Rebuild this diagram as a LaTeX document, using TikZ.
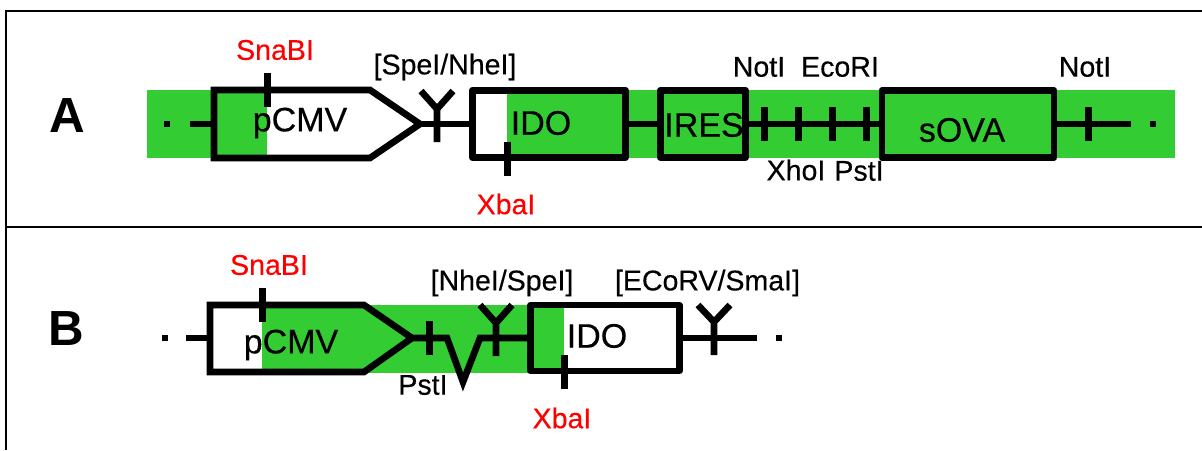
\documentclass[tikz,border=0pt]{standalone}
\usepackage{fontspec}
\usepackage{xcolor}
\setmainfont{Liberation Sans}
\newfontfamily\labelfont[FakeBold=0.35]{Liberation Sans}
\definecolor{bandgreen}{RGB}{51,204,51}

\begin{document}
\begin{tikzpicture}[x=0.75pt,y=-0.75pt]
%style for panel frame
\tikzstyle{frame} = [draw=black, line width=1.5pt]

%style for green band
\tikzstyle{band} = [fill=bandgreen, draw=none]

%style for backbone line and promoter outline
\tikzstyle{dna} = [draw=black, line width=5pt, line join=miter]

%style for gene box
\tikzstyle{gene} = [rectangle, draw=black, line width=5pt, line join=round, inner sep=0pt, outer sep=0pt]

%style for restriction site tick
\tikzstyle{site} = [rectangle, fill=black, inner sep=0pt, outer sep=0pt, minimum width=5.25pt, minimum height=26pt]

%style for end dot
\tikzstyle{dot} = [rectangle, fill=black, inner sep=0pt, minimum size=4.5pt]

%style for texts
\tikzstyle{panel} = [inner sep=0pt, font=\fontsize{37}{40}\selectfont\bfseries]
\tikzstyle{insert} = [inner sep=0pt, font=\labelfont\fontsize{25.5}{28}\selectfont]
\tikzstyle{enzyme} = [inner sep=0pt, font=\labelfont\fontsize{21.4}{24}\selectfont]
\tikzstyle{keyenzyme} = [enzyme, text=red]

\useasboundingbox (0,0) rectangle (1202,450);

%panel frame
\coordinate (frameTopLeft) at (6,11);
\coordinate (frameTopRight) at (1202,11);
\coordinate (frameMidLeft) at (6,227);
\coordinate (frameMidRight) at (1202,227);
\coordinate (frameBottomLeft) at (6,450);
\draw[frame] (frameTopRight) -- (frameTopLeft) -- (frameBottomLeft);
\draw[frame] (frameMidLeft) -- (frameMidRight);

%panel A bands
\fill[band] (147,90) rectangle (267,158);
\fill[band] (507,90) rectangle (1175,158);

%panel A nodes
\node[panel] (labelA) at (67,116) {A};
\node[dot] (dotLeftA) at (167,124) {};
\coordinate (lineLeftA) at (190,124);
\coordinate (pCMVWestA) at (214,124);
\coordinate (pCMVTipA) at (420,124);
\node[gene, minimum width=115pt, minimum height=50.5pt] (idoA) at (549,124) {};
\node[gene, minimum width=64pt, minimum height=50.5pt] (iresA) at (703,124) {};
\node[gene, minimum width=129pt, minimum height=50.5pt] (sovaA) at (968,124) {};
\coordinate (lineRightA) at (1131,124);
\node[dot] (dotRightA) at (1153,124) {};
\coordinate (forkSpeA) at (437,109);

%panel A backbone
\draw[dna] (lineLeftA) -- (pCMVWestA);
\draw[dna] (pCMVTipA) -- (idoA.west);
\draw[dna] (idoA.east) -- (iresA.west);
\draw[dna] (iresA.east) -- (sovaA.west);
\draw[dna] (sovaA.east) -- (lineRightA);
\draw[dna] (214,90) -- (370,90) -- (pCMVTipA) -- (370,158) -- (214,158) -- cycle;
\draw[dna] (forkSpeA) +(-16,-18) -- (forkSpeA) -- +(16,-18) (forkSpeA) -- +(0,33);

%panel A sites
\node[site] (tickSnaA) at (267,90) {};
\node[site] (tickXbaA) at (507,159) {};
\node[site] (tickNotA) at (764,124) {};
\node[site] (tickXhoA) at (798,124) {};
\node[site] (tickEcoA) at (832,124) {};
\node[site] (tickPstA) at (866,124) {};
\node[site] (tickNotRightA) at (1088,124) {};

%panel A texts
\node[insert] (pcmvTextA) at (300,123) {pCMV};
\node[insert] (idoTextA) at (541,123) {IDO};
\node[insert] (iresTextA) at (704,125) {IRES};
\node[insert] (sovaTextA) at (962,130) {sOVA};
\node[keyenzyme] (snaTextA) at (275,50) {SnaBI};
\node[keyenzyme] (xbaTextA) at (506,204) {XbaI};
\node[enzyme] (speTextA) at (445,67) {[SpeI/NheI]};
\node[enzyme] (notTextA) at (759,67) {NotI};
\node[enzyme] (ecoTextA) at (840,67) {EcoRI};
\node[enzyme] (notRightTextA) at (1085,67) {NotI};
\node[enzyme] (xhoTextA) at (796,170) {XhoI};
\node[enzyme] (pstTextA) at (859,171) {PstI};

%panel B band
\fill[band] (262,305) rectangle (564,373);

%panel B nodes
\node[panel] (labelB) at (66,329) {B};
\node[dot] (dotLeftB) at (165,338) {};
\coordinate (lineLeftB) at (186,338);
\coordinate (pCMVWestB) at (210,338);
\coordinate (pCMVTipB) at (412,338);
\coordinate (loopInB) at (447,338);
\coordinate (loopTipB) at (463,382);
\coordinate (loopOutB) at (480,338);
\node[gene, minimum width=111.5pt, minimum height=49.5pt] (idoB) at (605,338) {};
\coordinate (lineRightB) at (757,338);
\node[dot] (dotRightB) at (779,338) {};
\coordinate (forkNheB) at (496,323);
\coordinate (forkEcoB) at (714,322);

%panel B backbone
\draw[dna] (lineLeftB) -- (pCMVWestB);
\draw[dna] (pCMVTipB) -- (loopInB) -- (loopTipB) -- (loopOutB) -- (idoB.west);
\draw[dna] (idoB.east) -- (lineRightB);
\draw[dna] (210,305) -- (364,305) -- (pCMVTipB) -- (364,372) -- (210,372) -- cycle;
\draw[dna] (forkNheB) +(-16,-18) -- (forkNheB) -- +(16,-18) (forkNheB) -- +(0,33);
\draw[dna] (forkEcoB) +(-16,-17) -- (forkEcoB) -- +(16,-17) (forkEcoB) -- +(0,33);

%panel B sites
\node[site] (tickSnaB) at (262,305) {};
\node[site] (tickPstB) at (429,338) {};
\node[site] (tickXbaB) at (564,372) {};

%panel B texts
\node[insert] (pcmvTextB) at (291,345) {pCMV};
\node[insert] (idoTextB) at (597,336) {IDO};
\node[keyenzyme] (snaTextB) at (269,265) {SnaBI};
\node[keyenzyme] (xbaTextB) at (562,418) {XbaI};
\node[enzyme] (nheTextB) at (502,283) {[NheI/SpeI]};
\node[enzyme] (ecoTextB) at (707.5,283) {[ECoRV/SmaI]};
\node[enzyme] (pstTextB) at (423,385) {PstI};
\end{tikzpicture}
\end{document}
